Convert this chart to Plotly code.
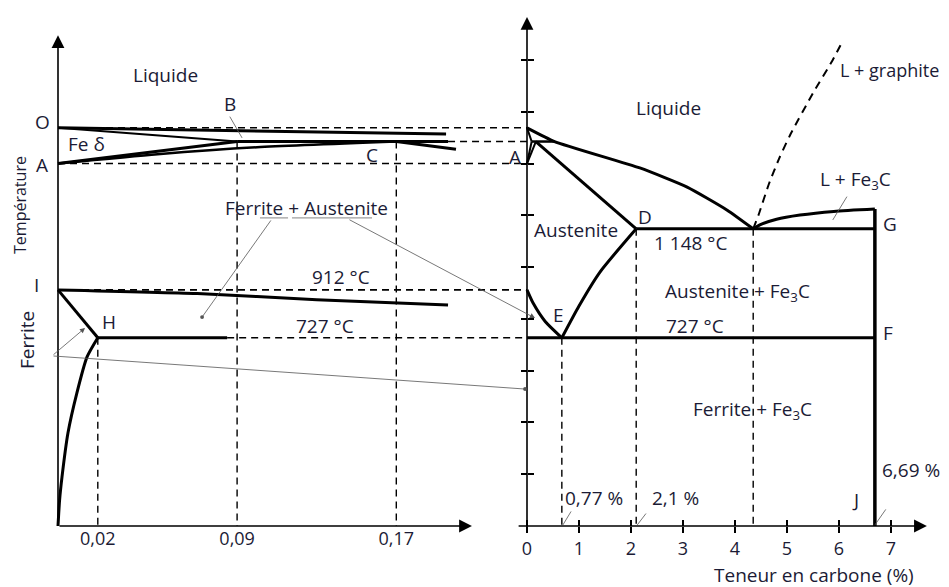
import plotly.graph_objects as go

# ---------------- data (right panel: % carbon, degrees C) ----------------
liq_x = [0, 0.53, 2.17, 3.08, 3.85, 4.35]
liq_T = [1538, 1485, 1383, 1309, 1220, 1148]
dsol_x = [0, 0.09]
dsol_T = [1538, 1485]
dgam_x = [0, 0.09]
dgam_T = [1400, 1485]
gam_x = [0, 0.17]
gam_T = [1400, 1485]
peri_x = [0.09, 0.53]
peri_T = [1485, 1485]
asol_x = [0.17, 2.1]
asol_T = [1485, 1148]
eut_x = [2.1, 6.69]
eut_T = [1148, 1148]
cemliq_x = [4.35, 4.5, 4.8, 5.25, 5.9, 6.69]
cemliq_T = [1148, 1165, 1185, 1201, 1215, 1224]
cem_x = [6.69, 6.69]
cem_T = [1224, 0]
graph_x = [4.35, 4.45, 4.65, 4.85, 5.06, 5.5, 5.88, 6.06]
graph_T = [1148, 1200, 1320, 1420, 1510, 1672, 1800, 1869]
a3_x = [0, 0.12, 0.35, 0.67]
a3_T = [912, 860, 790, 727]
acm_x = [0.67, 1.0, 1.4, 2.1]
acm_T = [727, 850, 980, 1148]
eutd_x = [0, 6.69]
eutd_T = [727, 727]
vdash_x = [0.67, 2.1, 4.35]
vdash_T = [727, 1148, 1148]
r_ticks = [0, 1, 2, 3, 4, 5, 6, 7]
T_ticks = [200, 400, 600, 800, 1000, 1200, 1400, 1600, 1800]

# ---------------- data (left panel: zoom on low carbon) ----------------
L_liq_x = [0, 0.195]
L_liq_T = [1538, 1514]
L_dsol_x = [0, 0.09]
L_dsol_T = [1538, 1485]
L_peri_x = [0.09, 0.196]
L_peri_T = [1485, 1485]
L_dgam_x = [0, 0.09]
L_dgam_T = [1400, 1485]
L_gam_x = [0, 0.05, 0.1, 0.17]
L_gam_T = [1400, 1436, 1463, 1485]
L_asol_x = [0.17, 0.2]
L_asol_T = [1485, 1455]
L_a3_x = [0, 0.07, 0.13, 0.196]
L_a3_T = [912, 898, 874, 854]
L_IH_x = [0, 0.02]
L_IH_T = [912, 727]
L_eutd_x = [0.02, 0.085]
L_eutd_T = [727, 727]
L_solv_x = [0.02, 0.0146, 0.0095, 0.005, 0.002, 0.0008, 0]
L_solv_T = [727, 653, 514, 359, 189, 100, 0]
L_vdash_x = [0.02, 0.09, 0.17]
L_vdash_T = [727, 1485, 1485]
L_hdash_from = [0, 0.196, 0, 0, 0.085]
L_hdash_T = [1538, 1485, 1400, 912, 727]
l_ticks = [0.02, 0.09, 0.17]
l_ticktext = ["0,02", "0,09", "0,17"]

# ---------------- layout geometry ----------------
OFF = 8                   # default page margin around the plot div
W, H = 949 - OFF, 587 - OFF
R0, RK = 527 - OFF, 52.0  # right panel: pixel of 0 %, px per %
L0, LK = 58 - OFF, 1990.0 # left panel: pixel of 0 %, px per %
T0, TK = 526 - OFF, 0.2589  # pixel of 0 C, px per C
xr_range = [(0 - R0) / RK, (W - R0) / RK]
xl_range = [(0 - L0) / LK, (W - L0) / LK]
y_range = [-(H - T0) / TK, T0 / TK]
X_JOIN = (R0 - L0) / LK   # right axis position in left-panel units
pos_y = (H - T0) / H
pos_x = R0 / W

INK = "black"
TXT = "#1b1b35"
FONT = "Open Sans"
FS = 19

fig = go.Figure()


def line(x, y, ax="x", width=3.0, dash=None, color=INK, shape="linear", smooth=0.6):
    fig.add_trace(go.Scatter(
        x=x, y=y, xaxis=ax, yaxis="y", mode="lines",
        line=dict(color=color, width=width, dash=dash, shape=shape, smoothing=smooth),
        hoverinfo="skip", showlegend=False))


DASH = "7px,5px"

# right panel
line(liq_x, liq_T, shape="spline", smooth=0.5)
line(dsol_x, dsol_T, width=2)
line(dgam_x, dgam_T, width=2)
line(gam_x, gam_T, width=2)
line(peri_x, peri_T, width=2.5)
line(asol_x, asol_T)
line(eut_x, eut_T)
line(cemliq_x, cemliq_T, shape="spline")
line(cem_x, cem_T, width=3.5)
line(graph_x, graph_T, width=2, dash="8px,6px", shape="spline")
line(a3_x, a3_T, shape="spline")
line(acm_x, acm_T, shape="spline")
line(eutd_x, eutd_T)
for vx, vt in zip(vdash_x, vdash_T):
    line([vx, vx], [vt, 0], width=1.4, dash=DASH)

# left panel
line(L_liq_x, L_liq_T, ax="x2")
line(L_dsol_x, L_dsol_T, ax="x2", width=2)
line(L_peri_x, L_peri_T, ax="x2", width=3)
line(L_dgam_x, L_dgam_T, ax="x2", width=3)
line(L_gam_x, L_gam_T, ax="x2", width=2.5, shape="spline")
line(L_asol_x, L_asol_T, ax="x2", width=3)
line(L_a3_x, L_a3_T, ax="x2", shape="spline")
line(L_IH_x, L_IH_T, ax="x2")
line(L_eutd_x, L_eutd_T, ax="x2")
line(L_solv_x, L_solv_T, ax="x2", shape="spline")
for vx, vt in zip(L_vdash_x, L_vdash_T):
    line([vx, vx], [vt, 0], ax="x2", width=1.4, dash=DASH)
for hx, ht in zip(L_hdash_from, L_hdash_T):
    line([hx, X_JOIN], [ht, ht], ax="x2", width=1.6, dash=DASH)
# underline of the label
line([0.1015, 0.1156], [1190, 1190], ax="x2", width=0.8, color="#666")
line([0.1176, 0.1578], [1190, 1190], ax="x2", width=0.8, color="#666")

# dummy trace for the overlay tick axes
fig.add_trace(go.Scatter(x=[0], y=[0], xaxis="x3", yaxis="y2", mode="markers",
                         marker=dict(opacity=0), hoverinfo="skip", showlegend=False))

ann = []


def text(t, x, y, ax="x", size=FS, angle=0, xanchor="center"):
    ann.append(dict(text=t, x=x, y=y, xref=ax, yref="y", showarrow=False,
                    font=dict(family=FONT, size=size, color=TXT),
                    textangle=angle, xanchor=xanchor, yanchor="middle"))


def arrow(hx, hy, tx, ty, ax="x", head=0, width=0.8, size=1.0, color="#555"):
    ann.append(dict(text="", x=hx, y=hy, ax=tx, ay=ty, xref=ax, yref="y",
                    axref=ax, ayref="y", showarrow=True, arrowhead=head,
                    arrowwidth=width, arrowsize=size, arrowcolor=color,
                    standoff=0, startstandoff=0))


# axis arrows
arrow(0, 1966, 0, -20, ax="x", head=2, width=1.6, size=1.6, color=INK)
arrow(7.69, 0, -0.19, 0, ax="x", head=2, width=1.6, size=1.6, color=INK)
arrow(0, 1896, 0, 0, ax="x2", head=2, width=1.6, size=1.6, color=INK)
arrow(0.208, 0, 0, 0, ax="x2", head=2, width=1.6, size=1.6, color=INK)

# leaders
arrow(0.0724, 807, 0.1075, 1186, ax="x2", head=6, width=0.8, size=1.2)
arrow(0.2397, 803, 0.1457, 1186, ax="x2", head=2, width=0.8, size=1.3)
arrow(0.0136, 765, -0.003, 657, ax="x2", head=2, width=0.8, size=1.3)
arrow(0.2347, 529, -0.003, 657, ax="x2", head=6, width=0.8, size=1.2)
arrow(0.0925, 1499, 0.0859, 1587, ax="x2", head=0, width=0.8)
arrow(5.88, 1182, 6.17, 1278, ax="x", head=0, width=0.8)
arrow(0.69, 4, 0.865, 62, ax="x", head=0, width=0.8)
arrow(2.12, 4, 2.31, 54, ax="x", head=0, width=0.8)
arrow(6.69, 4, 6.92, 70, ax="x", head=0, width=0.8)

# right panel labels
text("Liquide", 2.73, 1615)
text("L + graphite", 5.98, 1761, xanchor="left", size=18)
text("L + Fe<sub>3</sub>C", 6.31, 1336)
text("G", 6.98, 1166)
text("Austenite", 0.94, 1143)
text("D", 2.27, 1193)
text("1 148 °C", 3.15, 1093)
text("Austenite + Fe<sub>3</sub>C", 4.04, 904)
text("E", 0.6, 815)
text("727 °C", 3.23, 772)
text("F", 6.94, 745)
text("Ferrite + Fe<sub>3</sub>C", 4.33, 448)
text("6,69 %", 6.79, 216, xanchor="left")
text("J", 6.31, 100)
text("0,77 %", 0.69, 108, xanchor="left")
text("2,1 %", 2.37, 108, xanchor="left")
text("A", -0.23, 1425)
text("Teneur en carbone (%)", 5.52, -189, size=19)

# left panel labels
text("Liquide", 0.0538, 1742, ax="x2")
text("O", -0.008, 1560, ax="x2")
text("A", -0.008, 1394, ax="x2")
text("B", 0.0864, 1630, ax="x2")
text("C", 0.1578, 1433, ax="x2")
text("Fe δ", 0.0141, 1475, ax="x2")
text("Ferrite + Austenite", 0.1251, 1228, ax="x2")
text("912 °C", 0.1422, 962, ax="x2")
text("727 °C", 0.1342, 772, ax="x2")
text("I", -0.0106, 931, ax="x2")
text("H", 0.0256, 788, ax="x2")
text("Ferrite", -0.0156, 718, ax="x2", angle=-90)
text("Température", -0.0191, 1240, ax="x2", angle=-90, size=16)

tickfont = dict(family=FONT, size=18, color=TXT)
common = dict(showgrid=False, zeroline=False, showline=False, fixedrange=True)

fig.update_layout(
    width=W, height=H, margin=dict(l=0, r=0, t=0, b=0),
    paper_bgcolor="white", plot_bgcolor="white", showlegend=False,
    annotations=ann,
    xaxis=dict(domain=[0, 1], range=xr_range, anchor="free", position=pos_y,
               tickmode="array", tickvals=r_ticks, ticks="outside", ticklen=6,
               tickwidth=1.5, tickcolor=INK, tickfont=tickfont, **common),
    xaxis3=dict(overlaying="x", side="top", range=xr_range, anchor="free",
                position=pos_y, tickmode="array", tickvals=r_ticks,
                ticks="outside", ticklen=6, tickwidth=1.5, tickcolor=INK,
                showticklabels=False, **common),
    xaxis2=dict(overlaying="x", range=xl_range, anchor="free", position=pos_y,
                tickmode="array", tickvals=l_ticks, ticktext=l_ticktext,
                ticks="", tickfont=tickfont, **common),
    yaxis=dict(domain=[0, 1], range=y_range, anchor="free", position=pos_x,
               tickmode="array", tickvals=T_ticks, ticks="outside", ticklen=6,
               tickwidth=1.5, tickcolor=INK, showticklabels=False, **common),
    yaxis2=dict(overlaying="y", side="right", range=y_range, anchor="free",
                position=pos_x, tickmode="array", tickvals=T_ticks,
                ticks="outside", ticklen=6, tickwidth=1.5, tickcolor=INK,
                showticklabels=False, **common),
)

fig.write_html("out.html")
